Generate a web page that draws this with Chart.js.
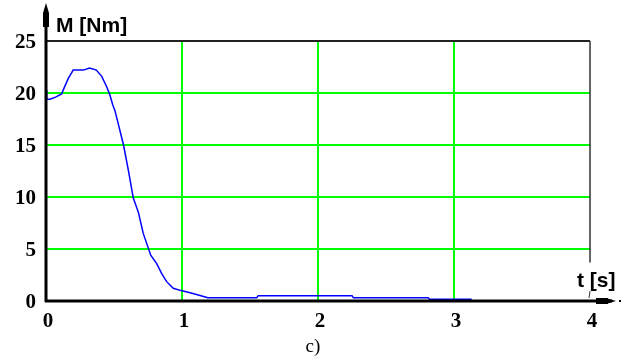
<!DOCTYPE html>
<html>
<head>
<meta charset="utf-8">
<script src="https://cdn.jsdelivr.net/npm/chart.js@4"></script>
<style>
  html, body { margin: 0; padding: 0; background: #fff; }
  #wrap { width: 632px; height: 363px; position: relative; }
</style>
</head>
<body>
<div id="wrap"><canvas id="c" width="632" height="363"></canvas></div>
<script>
// torque curve
const timeS = [0, 0.005, 0.03, 0.07, 0.115, 0.127, 0.164, 0.2, 0.275, 0.32, 0.37, 0.41, 0.446, 0.47, 0.49, 0.507,
  0.57, 0.605, 0.642, 0.68, 0.715, 0.77, 0.814, 0.85, 0.887, 0.936, 0.993, 1.06, 1.12, 1.19,
  1.55, 1.56, 2.25, 2.26, 2.81, 2.82, 3.13];
const torqueNm = [20.3, 19.4, 19.4, 19.6, 19.9, 20.3, 21.4, 22.2, 22.2, 22.4, 22.2, 21.6, 20.6, 19.8, 18.9, 18.3,
  15.0, 12.6, 9.9, 8.5, 6.5, 4.4, 3.6, 2.66, 1.86, 1.22, 1.0, 0.8, 0.58, 0.32,
  0.32, 0.51, 0.51, 0.32, 0.32, 0.16, 0.16];
const xTicks = [0, 1, 2, 3, 4];
const yTicks = [0, 5, 10, 15, 20, 25];

const GREEN = '#00ff00';
const TICK_FONT = { family: '"Liberation Serif", "Times New Roman", serif', size: 21, weight: 'bold' };

// thick axes with arrows, axis titles and the caption
const decor = {
  id: 'decor',
  afterDraw(chart) {
    const ctx = chart.ctx;
    const x = chart.scales.x, y = chart.scales.y;
    const x0 = x.getPixelForValue(0), y0 = y.getPixelForValue(0);
    const xEnd = x.getPixelForValue(4), yTop = y.getPixelForValue(25);
    ctx.save();
    ctx.fillStyle = '#000';
    // right border stops above the t label
    ctx.lineWidth = 1.5;
    ctx.strokeStyle = '#333';
    ctx.beginPath(); ctx.moveTo(xEnd, yTop); ctx.lineTo(xEnd, y.getPixelForValue(3.7)); ctx.stroke();
    ctx.lineWidth = 1;
    ctx.beginPath(); ctx.moveTo(xEnd - 1, y0 - 3); ctx.lineTo(xEnd, y0 - 10); ctx.stroke();
    ctx.strokeStyle = '#000';
    // y axis
    ctx.lineWidth = 3;
    ctx.beginPath(); ctx.moveTo(x0, 10); ctx.lineTo(x0, y0 + 1); ctx.stroke();
    ctx.beginPath(); ctx.moveTo(x0 - 3, 13); ctx.lineTo(x0, 3); ctx.lineTo(x0 + 3, 13); ctx.closePath(); ctx.fill();
    ctx.fillRect(x0 - 3, 13, 6, 14);
    // x axis
    ctx.beginPath(); ctx.moveTo(x0 - 1, y0); ctx.lineTo(612, y0); ctx.stroke();
    ctx.fillRect(596, y0 - 3, 12, 6);
    ctx.beginPath(); ctx.moveTo(606, y0 - 3); ctx.lineTo(616, y0); ctx.lineTo(606, y0 + 3); ctx.closePath(); ctx.fill();
    ctx.fillRect(619, y0 - 1, 2, 2);
    // titles
    ctx.font = 'bold 21px "Liberation Sans", Arial, sans-serif';
    ctx.textBaseline = 'alphabetic';
    ctx.textAlign = 'left';
    ctx.fillText('M [Nm]', 56, 32);
    ctx.fillText('t [s]', 577, 287);
    ctx.font = '19px "Liberation Serif", "Times New Roman", serif';
    ctx.textAlign = 'center';
    ctx.fillText('c)', 313, 352);
    ctx.restore();
  }
};

new Chart(document.getElementById('c'), {
  type: 'line',
  data: {
    datasets: [{
      data: timeS.map((t, i) => ({ x: t, y: torqueNm[i] })),
      borderColor: '#0000ff',
      borderWidth: 1.5,
      pointRadius: 0,
      tension: 0,
      fill: false
    }]
  },
  options: {
    responsive: false,
    animation: false,
    layout: { padding: { top: 41, right: 42, left: 0, bottom: 0 } },
    plugins: { legend: { display: false }, tooltip: { enabled: false } },
    scales: {
      x: {
        type: 'linear', min: 0, max: 4,
        afterBuildTicks: s => { s.ticks = xTicks.map(v => ({ value: v })); },
        afterFit: s => { s.height = 62; },
        border: { display: false },
        grid: {
          drawTicks: false,
          lineWidth: 2,
          color: c => (c.tick.value > 0 && c.tick.value < 4) ? GREEN : 'rgba(0,0,0,0)'
        },
        ticks: {
          color: '#000', padding: 8, labelOffset: 2,
          font: TICK_FONT,
          callback: v => String(v)
        }
      },
      y: {
        type: 'linear', min: 0, max: 25,
        afterBuildTicks: s => { s.ticks = yTicks.map(v => ({ value: v })); },
        afterFit: s => { s.width = 46; },
        border: { display: false },
        grid: {
          drawTicks: false,
          lineWidth: 2,
          color: c => c.tick.value === 25 ? '#222' : (c.tick.value > 0 ? GREEN : 'rgba(0,0,0,0)')
        },
        ticks: {
          color: '#000', padding: 10, labelOffset: 2,
          font: TICK_FONT,
          callback: v => String(v)
        }
      }
    }
  },
  plugins: [decor]
});
</script>
</body>
</html>
